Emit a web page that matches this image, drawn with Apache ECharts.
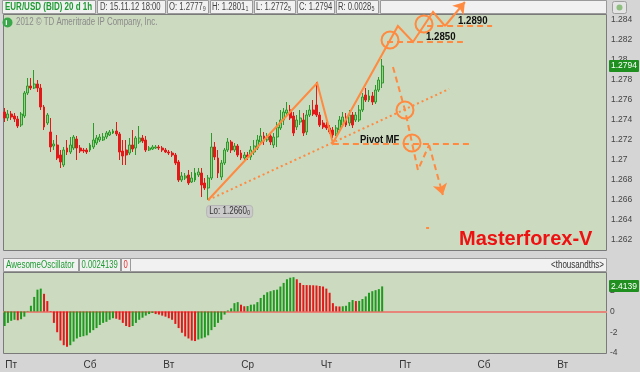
<!DOCTYPE html>
<html><head><meta charset="utf-8">
<script src="https://cdn.jsdelivr.net/npm/echarts@6/dist/echarts.min.js"></script>
<style>html,body{margin:0;padding:0;background:#d5d5d5;}#c{width:640px;height:372px;}</style>
</head><body><div id="c"></div>
<script>
// ---------- data ----------
const openP = [
1.2748,1.2742,1.2746,1.2744,1.2741,1.2735,1.2744,1.2767,1.2774,1.2772,
1.2776,1.2772,1.2753,1.2737,1.2728,1.2714,1.2715,1.2705,1.2695,1.2712,
1.2708,1.2712,1.2721,1.2712,1.2710,1.2710,1.2710,1.2713,1.2717,1.2720,
1.2720,1.2723,1.2725,1.2727,1.2729,1.2726,1.2709,1.2710,1.2707,1.2715,
1.2712,1.2718,1.2722,1.2720,1.2710,1.2711,1.2712,1.2713,1.2712,1.2710,
1.2708,1.2707,1.2705,1.2698,1.2680,1.2682,1.2685,1.2678,1.2680,1.2685,
1.2687,1.2677,1.2672,1.2682,1.2713,1.2702,1.2683,1.2697,1.2710,1.2718,
1.2710,1.2714,1.2707,1.2702,1.2705,1.2703,1.2708,1.2712,1.2718,1.2724,
1.2720,1.2724,1.2715,1.2723,1.2732,1.2740,1.2747,1.2750,1.2744,1.2733,
1.2738,1.2740,1.2728,1.2745,1.2750,1.2755,1.2745,1.2737,1.2735,1.2732,
1.2730,1.2726,1.2730,1.2735,1.2743,1.2737,1.2745,1.2740,1.2740,1.2750,
1.2765,1.2760,1.2764,1.2758,1.2770,1.2777];
const closeP = [
1.2742,1.2746,1.2743,1.2741,1.2734,1.2746,1.2767,1.2774,1.2772,1.2776,
1.2772,1.2753,1.2733,1.2745,1.2713,1.2716,1.2702,1.2698,1.2710,1.2708,
1.2715,1.2723,1.2712,1.2709,1.2709,1.2708,1.2715,1.2720,1.2722,1.2723,
1.2723,1.2727,1.2728,1.2729,1.2726,1.2708,1.2704,1.2705,1.2715,1.2711,
1.2722,1.2722,1.2719,1.2710,1.2712,1.2713,1.2713,1.2712,1.2710,1.2708,
1.2707,1.2705,1.2697,1.2680,1.2684,1.2684,1.2677,1.2682,1.2687,1.2688,
1.2675,1.2672,1.2682,1.2713,1.2703,1.2687,1.2697,1.2710,1.2718,1.2710,
1.2714,1.2705,1.2702,1.2705,1.2703,1.2710,1.2714,1.2720,1.2724,1.2719,
1.2724,1.2718,1.2723,1.2733,1.2740,1.2748,1.2750,1.2742,1.2727,1.2740,
1.2742,1.2727,1.2745,1.2750,1.2746,1.2745,1.2735,1.2733,1.2732,1.2728,
1.2725,1.2732,1.2740,1.2743,1.2735,1.2745,1.2735,1.2745,1.2750,1.2763,
1.2760,1.2764,1.2758,1.2770,1.2780,1.2794];
const highP = [
1.2752,1.2750,1.2749,1.2747,1.2744,1.2748,1.2769,1.2782,1.2782,1.2790,
1.2780,1.2776,1.2755,1.2747,1.2742,1.2720,1.2725,1.2710,1.2713,1.2720,
1.2723,1.2725,1.2724,1.2715,1.2712,1.2712,1.2717,1.2737,1.2725,1.2726,
1.2727,1.2729,1.2730,1.2731,1.2738,1.2728,1.2720,1.2720,1.2722,1.2730,
1.2724,1.2734,1.2725,1.2724,1.2714,1.2715,1.2715,1.2715,1.2714,1.2712,
1.2710,1.2709,1.2707,1.2700,1.2688,1.2687,1.2690,1.2688,1.2692,1.2692,
1.2692,1.2682,1.2685,1.2727,1.2718,1.2710,1.2700,1.2712,1.2722,1.2720,
1.2717,1.2716,1.2710,1.2708,1.2708,1.2714,1.2720,1.2725,1.2732,1.2728,
1.2727,1.2728,1.2727,1.2738,1.2750,1.2752,1.2758,1.2755,1.2748,1.2745,
1.2750,1.2747,1.2750,1.2755,1.2760,1.2778,1.2748,1.2740,1.2738,1.2735,
1.2733,1.2735,1.2744,1.2748,1.2747,1.2750,1.2748,1.2748,1.2755,1.2767,
1.2772,1.2770,1.2768,1.2775,1.2783,1.2801];
const lowP = [
1.2738,1.2739,1.2740,1.2738,1.2732,1.2733,1.2742,1.2765,1.2770,1.2771,
1.2768,1.2750,1.2730,1.2735,1.2708,1.2710,1.2700,1.2692,1.2693,1.2705,
1.2706,1.2710,1.2700,1.2707,1.2707,1.2706,1.2708,1.2711,1.2715,1.2718,
1.2719,1.2721,1.2724,1.2726,1.2724,1.2700,1.2695,1.2695,1.2705,1.2708,
1.2705,1.2716,1.2717,1.2708,1.2709,1.2710,1.2711,1.2710,1.2708,1.2707,
1.2705,1.2703,1.2695,1.2678,1.2678,1.2680,1.2675,1.2677,1.2678,1.2683,
1.2663,1.2670,1.2660,1.2680,1.2700,1.2682,1.2680,1.2695,1.2708,1.2707,
1.2708,1.2703,1.2700,1.2700,1.2700,1.2700,1.2705,1.2710,1.2715,1.2715,
1.2718,1.2715,1.2712,1.2713,1.2730,1.2735,1.2745,1.2740,1.2724,1.2730,
1.2735,1.2724,1.2725,1.2743,1.2744,1.2743,1.2733,1.2731,1.2730,1.2726,
1.2722,1.2724,1.2728,1.2733,1.2733,1.2734,1.2732,1.2738,1.2738,1.2748,
1.2758,1.2758,1.2755,1.2756,1.2768,1.2772];
const aoValues = [
-1.4,-1.1,-0.9,-0.8,-0.85,-0.75,-0.5,0.05,0.55,1.4,
2.1,2.2,1.7,1.0,-0.05,-1.1,-2.0,-2.8,-3.25,-3.4,
-3.25,-2.9,-2.6,-2.45,-2.38,-2.3,-2.05,-1.8,-1.6,-1.3,
-1.1,-1.0,-0.8,-0.65,-0.7,-0.8,-1.1,-1.4,-1.5,-1.4,
-1.1,-0.8,-0.6,-0.4,-0.25,-0.15,-0.25,-0.3,-0.4,-0.5,
-0.65,-0.8,-1.2,-1.6,-2.05,-2.4,-2.6,-2.8,-2.85,-2.7,
-2.6,-2.5,-2.3,-1.8,-1.5,-1.1,-0.8,-0.3,0.1,0.3,
0.8,0.9,0.65,0.5,0.52,0.65,0.68,0.9,1.3,1.6,
1.85,1.95,2.05,2.1,2.4,2.75,3.1,3.25,3.3,3.1,
2.75,2.55,2.54,2.53,2.52,2.5,2.45,2.4,2.2,1.8,
0.8,0.5,0.48,0.5,0.55,0.9,1.1,1.0,1.02,1.2,
1.45,1.8,1.95,2.05,2.15,2.4139];
const totalSlots = 184;                 // hourly slots shown on the time axis
const dayLabels = ['Пт','Сб','Вт','Ср','Чт','Пт','Сб','Вт'];
const dayLabelIndex = [2,26,50,74,98,122,146,170];
const priceTicks = [1.262,1.264,1.266,1.268,1.27,1.272,1.274,1.276,1.278,1.28,1.282,1.284];
const aoTicks = [-4,-2,0,2];
// hand-drawn analysis (slot index, price)
const zigzagPath = [[62,1.2660],[95.2,1.2777],[100,1.2717],[119.8,1.2834],[124.4,1.2818],[130.5,1.2848],[134.15,1.2834]];
const zigzagArrow = [[134.15,1.2834],[140.2,1.2858]];
const trendLine = [[62,1.2660],[135.4,1.2771]];
const pivotLine = [[100,1.2716],[142.4,1.2716]];
const level1850 = [[116.5,1.2818],[139.6,1.2818]];
const level1890 = [[128.7,1.2834],[148.5,1.2834]];
const downPath = [[118.3,1.2793],[121.96,1.2750],[124.1,1.2717],[125.9,1.2690],[129.3,1.2715]];
const downArrow = [[129.3,1.2715],[133.5,1.2665]];
const circlePts = [[117.4,1.2820],[127.75,1.2836],[121.96,1.2750],[124.1,1.2717]];
const tickMark = [[128.4,1.2632],[129.3,1.2632]];

// ---------- chart ----------
const ORANGE = '#ff8a40', UPC = '#2b9a2b', DNC = '#e31818', AOG = '#1f9a1f', AOR = '#e01a1a';
const FONT = '"Liberation Sans",Arial,sans-serif';
const cats = Array.from({length: totalSlots}, (_, i) => String(i));
const chart = echarts.init(document.getElementById('c'), null, {renderer: 'canvas'});

function annot(coords, dash, arrow) {
  return {type: 'lines', coordinateSystem: 'cartesian2d', xAxisIndex: 2, yAxisIndex: 0,
    polyline: !arrow, clip: false, silent: true, z: 10,
    symbol: arrow ? ['none', 'arrow'] : 'none', symbolSize: arrow ? 11 : 0,
    lineStyle: {color: ORANGE, width: 2, type: dash, opacity: 1, curveness: 0},
    data: [{coords}]};
}

chart.setOption({
  animation: false,
  grid: [
    {left: 3, right: 33, top: 14, height: 237},
    {left: 3, right: 33, top: 272, height: 81}
  ],
  xAxis: [
    {type: 'category', gridIndex: 0, data: cats, boundaryGap: true, show: false},
    {type: 'category', gridIndex: 1, data: cats, boundaryGap: true,
      axisLine: {show: false}, axisTick: {show: false},
      axisLabel: {interval: (i) => dayLabelIndex.includes(i),
        formatter: (v, i) => dayLabels[dayLabelIndex.indexOf(i)],
        margin: 7, color: '#333', fontSize: 10, fontFamily: FONT}},
    {type: 'value', gridIndex: 0, min: -0.5, max: totalSlots - 0.5, show: false}
  ],
  yAxis: [
    {type: 'value', gridIndex: 0, position: 'right', min: 1.2609, max: 1.2846,
      splitLine: {show: false}, axisLine: {show: false}, axisTick: {show: false},
      axisLabel: {customValues: priceTicks, formatter: v => String(+(+v).toFixed(3)),
        margin: 4, color: '#444', fontSize: 8.5, fontFamily: FONT}},
    {type: 'value', gridIndex: 1, position: 'right', min: -4, max: 3.8,
      splitLine: {show: false}, axisLine: {show: false}, axisTick: {show: false},
      axisLabel: {customValues: aoTicks, formatter: v => String(v),
        margin: 3, color: '#444', fontSize: 8.5, fontFamily: FONT}}
  ],
  series: [
    {type: 'candlestick', xAxisIndex: 0, yAxisIndex: 0, z: 5, barWidth: 2.4,
      data: openP.map((o, i) => [o, closeP[i], lowP[i], highP[i]]),
      itemStyle: {color: '#9ccf8c', color0: DNC, borderColor: UPC, borderColor0: DNC, borderWidth: 1}},
    {type: 'bar', xAxisIndex: 1, yAxisIndex: 1, barWidth: 2, z: 5,
      data: aoValues.map((v, i) => ({value: v,
        itemStyle: {color: (i === 0 || v >= aoValues[i - 1]) ? AOG : AOR}})),
      markLine: {silent: true, symbol: 'none', label: {show: false}, z: 4,
        lineStyle: {color: '#e8857a', width: 2, type: 'solid'}, data: [{yAxis: 0}]}},
    annot(zigzagPath, 'solid', false),
    annot(zigzagArrow, 'solid', true),
    annot(trendLine, [2, 3], false),
    annot(pivotLine, [6, 4], false),
    annot(level1850, [6, 4], false),
    annot(level1890, [6, 4], false),
    annot(downPath, [6, 4], false),
    annot(downArrow, [6, 4], true),
    annot(tickMark, 'solid', false),
    {type: 'scatter', xAxisIndex: 2, yAxisIndex: 0, clip: false, silent: true, z: 11,
      symbol: 'circle', symbolSize: 17, data: circlePts,
      itemStyle: {color: 'rgba(0,0,0,0)', borderColor: ORANGE, borderWidth: 2, opacity: 1}}
  ]
});

// ---------- decorations (frames, texts, badges) ----------
const SX = 0.77;
function rect(x, y, w, h, fill, stroke, z, r) {
  return {type: 'rect', silent: true, z: z || 0, shape: {x, y, width: w, height: h, r: r || 0},
    style: {fill: fill, stroke: stroke || null, lineWidth: 1}};
}
function text(x, y, t, o, sx) {
  return {type: 'text', silent: true, z: (o && o.z) || 20, x, y, scaleX: sx || 1,
    style: Object.assign({text: t, fill: '#444', font: '10px ' + FONT, verticalAlign: 'middle', align: 'left'}, o || {})};
}
function rich(x, y, main, sub, color, z, sx) {
  return {type: 'text', silent: true, z: z || 20, x, y, scaleX: sx || 1,
    style: {text: '{a|' + main + '}{b|' + sub + '}', verticalAlign: 'middle', align: 'left',
      rich: {a: {fontSize: 10, fontFamily: FONT, fill: color || '#444', color: color || '#444'},
             b: {fontSize: 7, fontFamily: FONT, fill: color || '#444', color: color || '#444', verticalAlign: 'bottom'}}}};
}
const last = closeP.length - 1;
const yClose = chart.convertToPixel({yAxisIndex: 0}, closeP[last]);
const yAo = chart.convertToPixel({yAxisIndex: 1}, aoValues[last]);
const loIdx = 62;
const xLo = chart.convertToPixel({xAxisIndex: 2}, loIdx);
const yLo = chart.convertToPixel({yAxisIndex: 0}, lowP[loIdx]);

const g = [];
// panels
g.push(rect(3.5, 14.5, 603, 236, '#ccdabf', '#7a7a7a', -10));
g.push(rect(3.5, 272.5, 603, 81, '#ccdabf', '#7a7a7a', -10));
g.push(rect(0.5, 0.5, 606, 13, '#cfcfcf', null, -11));
// header boxes
const hb = [[2, 93], [97, 68], [167, 41], [210, 42], [254, 41], [297, 37], [336, 42], [380, 226]];
hb.forEach(([x, w]) => g.push(rect(x + 0.5, 0.5, w, 13, '#f1f1f1', '#9a9a9a', 1)));
g.push(text(5, 7.5, 'EUR/USD (BID) 20 d 1h', {fill: '#1e9b32', font: 'bold 10px ' + FONT, z: 2}, 0.8));
g.push(text(100, 7.5, 'D: 15.11.12 18:00', {z: 2}, SX));
g.push(rich(169, 7.5, 'O: 1.2777', '9', null, 2, SX));
g.push(rich(212, 7.5, 'H: 1.2801', '1', null, 2, SX));
g.push(rich(256, 7.5, 'L: 1.2772', '5', null, 2, SX));
g.push(text(299, 7.5, 'C: 1.2794', {z: 2}, SX));
g.push(rich(338, 7.5, 'R: 0.0028', '5', null, 2, SX));
g.push(rect(612.5, 1.5, 14, 12, '#e4e4e4', '#a0a0a0', 1, 2));
g.push({type: 'circle', silent: true, z: 2, shape: {cx: 619.5, cy: 7.5, r: 3}, style: {fill: '#8fbf7f'}});
// copyright
g.push({type: 'circle', silent: true, z: 2, shape: {cx: 7.5, cy: 22.5, r: 5}, style: {fill: '#3aa84a'}});
g.push(text(5.2, 22.5, 'i', {fill: '#fff', font: 'bold 8px ' + FONT, z: 3}));
g.push(text(16, 22.5, '2012 © TD Ameritrade IP Company, Inc.', {fill: '#8a8a8a', font: '10px ' + FONT, z: 2}, 0.79));
// oscillator header
g.push(rect(3.5, 258.5, 603, 13, '#f1f1f1', '#9a9a9a', 1));
g.push(rect(3.5, 258.5, 75, 13, '#f1f1f1', '#9a9a9a', 1));
g.push(rect(79.5, 258.5, 41, 13, '#f1f1f1', '#9a9a9a', 1));
g.push(rect(121.5, 258.5, 9, 13, '#f1f1f1', '#9a9a9a', 1));
g.push(text(6, 265, 'AwesomeOscillator', {fill: '#1e9b32', z: 2}, 0.8));
g.push(text(81.5, 265, '0.0024139', {fill: '#1e9b32', z: 2}, SX));
g.push(text(123.5, 265, '0', {fill: '#e03030', z: 2}, SX));
g.push(text(604, 265, '<thousandths>', {align: 'right', fill: '#333', z: 2}, 0.8));
// right-side value badges
g.push(rect(609, Math.round(yClose) - 6, 30, 12, '#1f8f1f', null, 5, 1));
g.push(text(624, yClose, closeP[last].toFixed(4), {fill: '#fff', align: 'center', font: '8.5px ' + FONT, z: 6}));
g.push(rect(609, Math.round(yAo) - 6, 30, 12, '#1f8f1f', null, 5, 1));
g.push(text(624, yAo, aoValues[last].toFixed(4), {fill: '#fff', align: 'center', font: '8.5px ' + FONT, z: 6}));
// low label
g.push(rect(xLo - 1.5, yLo + 5.5, 46, 12, '#cbcbcb', '#b5b5b5', 6, 3));
g.push(rich(xLo + 1, yLo + 11.5, 'Lo: 1.2660', '0', '#333', 7, 0.8));
// analysis labels
g.push(text(426, 37, '1.2850', {fill: '#111', font: 'bold 10.5px ' + FONT, z: 30}, 0.92));
g.push(text(458, 21, '1.2890', {fill: '#111', font: 'bold 10.5px ' + FONT, z: 30}, 0.92));
g.push(text(360, 140, 'Pivot MF', {fill: '#111', font: 'bold 10.5px ' + FONT, z: 30}, 0.9));
g.push(text(459, 239, 'Masterforex-V', {fill: '#ee1111', font: 'bold 20px ' + FONT, z: 30}));

chart.setOption({graphic: {elements: g}});
</script>
</body></html>
